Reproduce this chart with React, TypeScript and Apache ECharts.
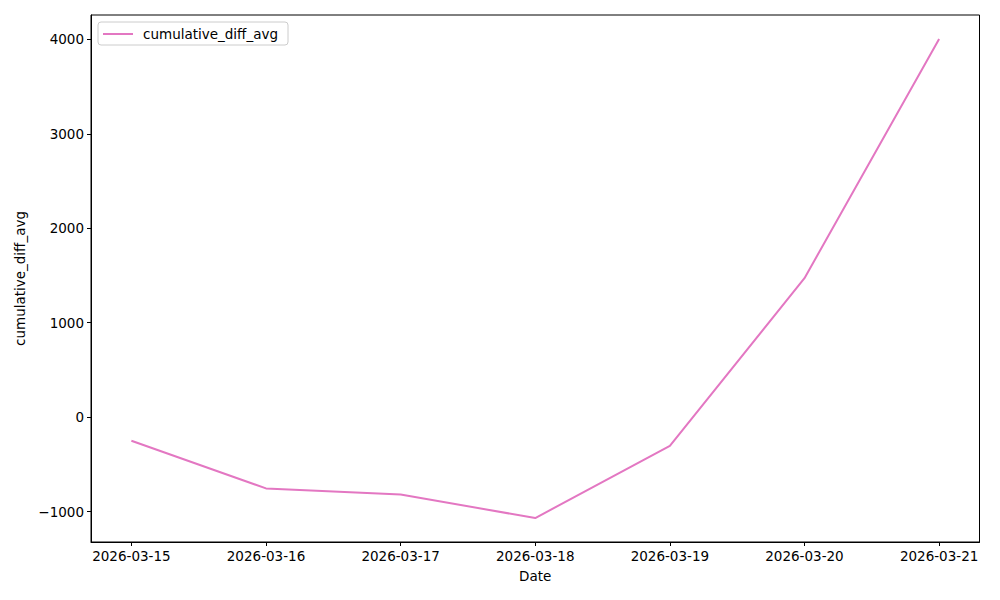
import React, { useEffect, useRef } from "react";
import * as echarts from "echarts";

const dates = ["2026-03-15", "2026-03-16", "2026-03-17", "2026-03-18", "2026-03-19", "2026-03-20", "2026-03-21"];
const cumulativeDiffAvg = [-251, -755, -819, -1069, -305, 1471, 4005];
const yTicks = [-1000, 0, 1000, 2000, 3000, 4000];

const FONT = "DejaVu Sans";

export default function App() {
  const ref = useRef<HTMLDivElement>(null);
  useEffect(() => {
    if (!ref.current) return;
    const chart = echarts.init(ref.current, null, { renderer: "svg" });
    const xIdx = dates.map((_, i) => i);
    const minV = Math.min(...cumulativeDiffAvg);
    const maxV = Math.max(...cumulativeDiffAvg);
    const pad = (maxV - minV) * 0.05;
    const n = dates.length - 1;
    chart.setOption({
      animation: false,
      grid: {
        left: 91,
        right: 20.5,
        top: 15,
        bottom: 58,
        show: true,
        borderColor: "#000",
        borderWidth: 1,
        backgroundColor: "transparent",
      },
      legend: {
        left: 98,
        top: 22,
        padding: [5, 10, 4, 5],
        borderColor: "#cccccc",
        borderWidth: 1,
        borderRadius: 3,
        itemWidth: 30,
        itemHeight: 10,
        itemGap: 10,
        textStyle: { fontFamily: FONT, fontSize: 13.5, color: "#000", padding: [0, 0, 0, 5] },
        data: [{ name: "cumulative_diff_avg", icon: "path://M0,4.5 L30,4.5 L30,6.5 L0,6.5 Z" }],
      },
      xAxis: {
        type: "value",
        min: -0.05 * n,
        max: n + 0.05 * n,
        name: "Date",
        nameLocation: "middle",
        nameGap: 27,
        nameTextStyle: { fontFamily: FONT, fontSize: 13.5, color: "#000" },
        splitLine: { show: false },
        axisLine: { show: true, onZero: false, lineStyle: { color: "#000", width: 1 } },
        axisTick: { show: true, inside: false, length: 4, lineStyle: { color: "#000" }, customValues: xIdx },
        axisLabel: {
          customValues: xIdx,
          fontFamily: FONT,
          fontSize: 13.5,
          color: "#000",
          margin: 7,
          formatter: (v: number) => dates[Math.round(v)] ?? "",
        },
      },
      yAxis: {
        type: "value",
        min: minV - pad,
        max: maxV + pad,
        name: "cumulative_diff_avg",
        nameLocation: "middle",
        nameGap: 62,
        nameTextStyle: { fontFamily: FONT, fontSize: 13.5, color: "#000" },
        splitLine: { show: false },
        axisLine: { show: true, onZero: false, lineStyle: { color: "#000", width: 1 } },
        axisTick: { show: true, inside: false, length: 4, lineStyle: { color: "#000" }, customValues: yTicks },
        axisLabel: {
          customValues: yTicks,
          fontFamily: FONT,
          fontSize: 13.5,
          color: "#000",
          margin: 7,
          formatter: (v: number) => (v < 0 ? "\u2212" + Math.abs(v) : String(v)),
        },
      },
      series: [
        {
          name: "cumulative_diff_avg",
          type: "line",
          data: xIdx.map((i) => [i, cumulativeDiffAvg[i]]),
          showSymbol: false,
          symbol: "none",
          lineStyle: { color: "#e377c2", width: 2 },
          itemStyle: { color: "#e377c2" },
        },
      ],
    });
    return () => chart.dispose();
  }, []);
  return <div ref={ref} style={{ width: 1000, height: 600, position: "absolute", left: 0, top: 0 }} />;
}
